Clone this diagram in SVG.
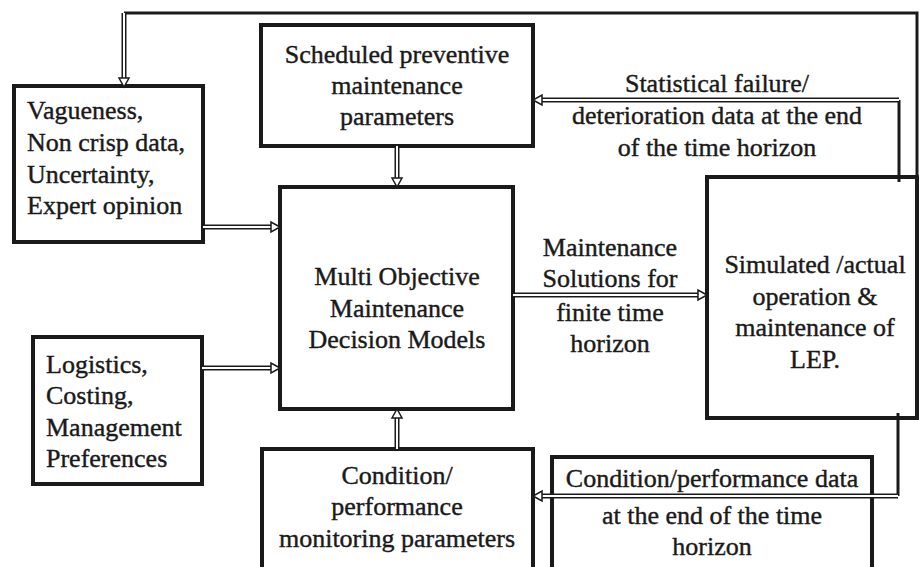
<svg xmlns="http://www.w3.org/2000/svg" width="919" height="567" viewBox="0 0 919 567">
  <style>
    .box { fill: #fff; stroke: #1a1a1a; stroke-width: 4; }
    .t { font-family: "Liberation Serif", "Times New Roman", serif; font-size: 26px; fill: #1a1a1a; stroke: #1a1a1a; stroke-width: 0.4; }
    .c { text-anchor: middle; }
    .line { fill: none; stroke: #1a1a1a; stroke-width: 3; }
    .dbl-outer { fill: none; stroke: #1a1a1a; stroke-width: 5; }
    .dbl-inner { fill: none; stroke: #fff; stroke-width: 2; }
    .head { fill: #fff; stroke: #1a1a1a; stroke-width: 1.5; stroke-linejoin: miter; }
  </style>
  <defs>
    <!-- open triangular head, tip at origin, pointing +x -->
    <path id="ah" class="head" d="M0,0 L-9,-5 L-9,5 Z"/>
  </defs>

  <rect width="919" height="567" fill="#fff"/>

  <g id="node-scheduled">
    <rect class="box" x="261" y="25" width="272" height="121"/>
    <text class="t c" x="397" y="63">Scheduled preventive</text>
    <text class="t c" x="397" y="94">maintenance</text>
    <text class="t c" x="397" y="125">parameters</text>
  </g>

  <g id="node-vagueness">
    <rect class="box" x="14" y="86" width="189" height="156"/>
    <text class="t" x="27" y="119">Vagueness,</text>
    <text class="t" x="27" y="151">Non crisp data,</text>
    <text class="t" x="27" y="183">Uncertainty,</text>
    <text class="t" x="27" y="214">Expert opinion</text>
  </g>

  <g id="node-models">
    <rect class="box" x="280" y="187" width="233" height="222"/>
    <text class="t c" x="397" y="285">Multi Objective</text>
    <text class="t c" x="397" y="317">Maintenance</text>
    <text class="t c" x="397" y="348">Decision Models</text>
  </g>

  <g id="node-logistics">
    <rect class="box" x="33" y="337" width="169" height="147"/>
    <text class="t" x="46" y="373">Logistics,</text>
    <text class="t" x="46" y="404">Costing,</text>
    <text class="t" x="46" y="436">Management</text>
    <text class="t" x="46" y="467">Preferences</text>
  </g>

  <g id="node-monitoring">
    <rect class="box" x="262" y="449" width="271" height="130"/>
    <text class="t c" x="397" y="484">Condition/</text>
    <text class="t c" x="397" y="515">performance</text>
    <text class="t c" x="397" y="547">monitoring parameters</text>
  </g>

  <g id="node-lep">
    <rect class="box" x="707" y="177" width="210" height="241"/>
    <text class="t c" x="815" y="273">Simulated /actual</text>
    <text class="t c" x="815" y="305">operation &amp;</text>
    <text class="t c" x="815" y="336">maintenance of</text>
    <text class="t c" x="815" y="368">LEP.</text>
  </g>

  <g id="node-condition-data">
    <rect class="box" x="552" y="457" width="320" height="130"/>
    <text class="t c" x="712" y="487">Condition/performance data</text>
    <text class="t c" x="712" y="524">at the end of the time</text>
    <text class="t c" x="712" y="555">horizon</text>
  </g>

  <g id="connectors">
    <!-- feedback loop over the top -->
    <polyline class="line" points="917,177 917,13 124,13"/>
    <polyline class="line" points="899,182 899,100"/>
    <polyline class="line" points="898,413 898,496"/>

    <!-- double-line arrows -->
    <path class="dbl-outer" d="M124,13 V78 M899,100 H542 M397,146 V178 M203,227 H271 M202,368 H271 M397,449 V418 M513,295 H698 M898,496 H542"/>
    <path class="dbl-inner" d="M124,13 V79 M899,100 H541 M397,146 V179 M203,227 H272 M202,368 H272 M397,449 V417 M513,295 H699 M898,496 H541"/>

    <use href="#ah" transform="translate(124,87) rotate(90)"/>
    <use href="#ah" transform="translate(533,100) rotate(180)"/>
    <use href="#ah" transform="translate(397,187) rotate(90)"/>
    <use href="#ah" transform="translate(280,227)"/>
    <use href="#ah" transform="translate(280,368)"/>
    <use href="#ah" transform="translate(397,409) rotate(-90)"/>
    <use href="#ah" transform="translate(707,295)"/>
    <use href="#ah" transform="translate(533,496) rotate(180)"/>
  </g>

  <g id="labels">
    <text class="t c" x="717" y="92">Statistical failure/</text>
    <text class="t c" x="717" y="124">deterioration data at the end</text>
    <text class="t c" x="717" y="156">of the time horizon</text>

    <text class="t c" x="610" y="256">Maintenance</text>
    <text class="t c" x="610" y="287">Solutions for</text>
    <text class="t c" x="610" y="321">finite time</text>
    <text class="t c" x="610" y="352">horizon</text>
  </g>
</svg>
